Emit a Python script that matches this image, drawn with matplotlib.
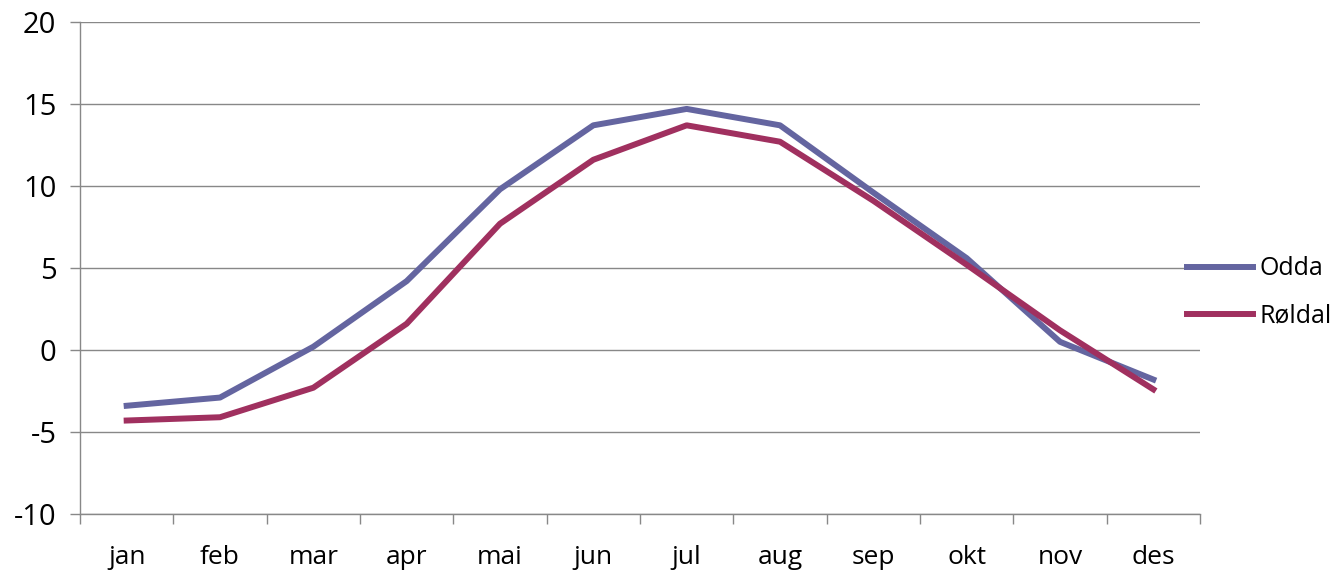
import numpy as np
import matplotlib
matplotlib.use("Agg")
from matplotlib import pyplot as plt

months = ["jan", "feb", "mar", "apr", "mai", "jun", "jul", "aug", "sep", "okt", "nov", "des"]
odda = [-3.4, -2.9, 0.2, 4.2, 9.8, 13.7, 14.7, 13.7, 9.6, 5.6, 0.5, -1.8]
roldal = [-4.3, -4.1, -2.3, 1.6, 7.7, 11.6, 13.7, 12.7, 9.1, 5.2, 1.2, -2.4]
yTicks = [-10, -5, 0, 5, 10, 15, 20]

plt.rcParams['font.family'] = ['Open Sans', 'DejaVu Sans']

fig = plt.figure(figsize=(13.41, 5.73), dpi=100)
ax = fig.add_axes([80/1341, 1-514/573, 1120/1341, 492/573])

x = np.arange(len(months))
ax.plot(x, odda, color="#6465a0", lw=4.3, label="Odda", solid_joinstyle="round")
ax.plot(x, roldal, color="#a0305f", lw=4.3, label="Røldal", solid_joinstyle="round")

ax.set_xlim(-0.5, len(months)-0.5)
ax.set_ylim(-10, 20)
ax.set_yticks(yTicks)
ax.set_yticklabels([str(t) for t in yTicks])
ax.set_xticks(x)
ax.set_xticklabels(months)
ax.set_xticks(np.arange(-0.5, len(months), 1), minor=True)
ax.tick_params(axis="x", which="major", length=0, pad=22, labelsize=19)
ax.tick_params(axis="x", which="minor", length=7, width=1, color="#888888", direction="out")
ax.tick_params(axis="y", length=7, width=1, color="#888888", pad=10, labelsize=21)

ax.grid(axis="y", color="#888888", lw=1)
ax.set_axisbelow(True)
for s in ["top", "right"]:
	ax.spines[s].set_visible(False)
for s in ["left", "bottom"]:
	ax.spines[s].set_color("#888888")
	ax.spines[s].set_linewidth(1)

leg = ax.legend(loc="center left", bbox_to_anchor=(0.988, 0.45), frameon=False, borderpad=0,
		borderaxespad=0, fontsize=18, handlelength=2.65, handletextpad=0.25, labelspacing=0.9)

plt.savefig("out.png", dpi=100)
